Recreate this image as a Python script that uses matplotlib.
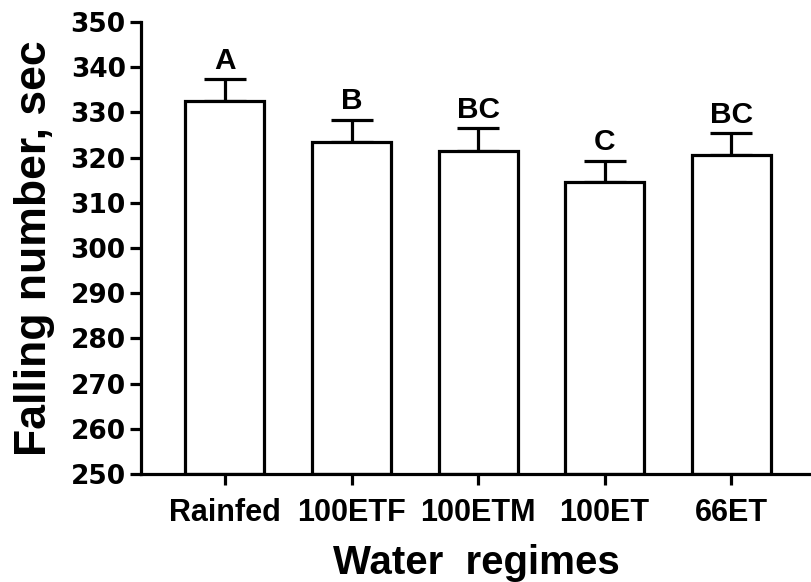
import numpy as np
import matplotlib
matplotlib.use('Agg')
import matplotlib.pyplot as plt

# values
regimes = ['Rainfed', '100ETF', '100ETM', '100ET', '66ET']
falling_number = [332.5, 323.4, 321.5, 314.6, 320.5]
sem = [4.8, 5.0, 5.0, 4.7, 4.9]
letters = ['A', 'B', 'BC', 'C', 'BC']

plt.rcParams['font.family'] = ['Liberation Sans', 'DejaVu Sans']
plt.rcParams['font.weight'] = 'bold'

fig = plt.figure(figsize=(8.11, 5.82), dpi=100)
ax = fig.add_axes([141/811, 108/582, 670/811, 452/582])

x = np.arange(len(regimes))
lw = 2.3

ax.errorbar(x, falling_number, yerr=[np.zeros(len(sem)), sem], fmt='none',
            ecolor='black', elinewidth=lw, capsize=15, capthick=lw, zorder=1)
ax.bar(x, np.array(falling_number) - 250, bottom=250, width=0.625,
       color='white', edgecolor='black', linewidth=lw, zorder=2)

for xi, v, e, lab in zip(x, falling_number, sem, letters):
    ax.annotate(lab, (xi, v + e), xytext=(0, 7.5), textcoords='offset points',
                ha='center', va='baseline', fontsize=21.5, fontweight='bold')

ax.set_ylim(250, 350)
ax.set_yticks(np.arange(250, 351, 10))
ax.set_xlim(-0.663, 4.63)
ax.set_xticks(x)
ax.set_xticklabels(regimes)

ax.spines['top'].set_visible(False)
ax.spines['right'].set_visible(False)
for s in ['left', 'bottom']:
    ax.spines[s].set_linewidth(lw)

ax.tick_params(axis='y', length=8, width=lw, labelsize=19, pad=3)
ax.tick_params(axis='x', length=8, width=lw, labelsize=22, pad=9)
for t in ax.get_yticklabels():
    t.set_family('DejaVu Sans')
    t.set_fontweight('bold')

ax.set_ylabel('Falling number, sec', fontsize=32, fontweight='bold', labelpad=11)
ax.set_xlabel('Water  regimes', fontsize=29, fontweight='bold', labelpad=12)

fig.savefig('out.png', dpi=100)
